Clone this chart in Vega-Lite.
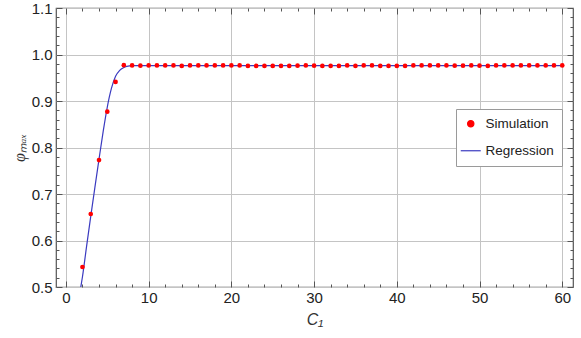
{
  "$schema": "https://vega.github.io/schema/vega-lite/v6.json",
  "width": 517,
  "height": 279,
  "autosize": "none",
  "padding": {"left": 56, "top": 8, "right": 8, "bottom": 51},
  "background": "white",
  "config": {
    "view": {"stroke": "#555", "strokeWidth": 1.2},
    "font": "Liberation Sans",
    "axis": {"labelFont": "Liberation Sans", "titleFont": "Liberation Sans", "labelColor": "#222", "titleColor": "#333", "tickColor": "#555", "gridColor": "#c4c4c4", "gridWidth": 1, "domain": false}
  },
  "datasets": {
    "sim": [
      {"C1": 2, "phi": 0.543}, {"C1": 3, "phi": 0.657}, {"C1": 4, "phi": 0.773}, {"C1": 5, "phi": 0.877},
      {"C1": 6, "phi": 0.941}, {"C1": 7, "phi": 0.977}, {"C1": 8, "phi": 0.9765}, {"C1": 9, "phi": 0.976},
      {"C1": 10, "phi": 0.9765}, {"C1": 11, "phi": 0.9765}, {"C1": 12, "phi": 0.9765}, {"C1": 13, "phi": 0.9765},
      {"C1": 14, "phi": 0.9755}, {"C1": 15, "phi": 0.9765}, {"C1": 16, "phi": 0.9765}, {"C1": 17, "phi": 0.9765},
      {"C1": 18, "phi": 0.9765}, {"C1": 19, "phi": 0.9765}, {"C1": 20, "phi": 0.9765}, {"C1": 21, "phi": 0.9765},
      {"C1": 22, "phi": 0.9755}, {"C1": 23, "phi": 0.9755}, {"C1": 24, "phi": 0.9755}, {"C1": 25, "phi": 0.9755},
      {"C1": 26, "phi": 0.9755}, {"C1": 27, "phi": 0.9755}, {"C1": 28, "phi": 0.976}, {"C1": 29, "phi": 0.9765},
      {"C1": 30, "phi": 0.976}, {"C1": 31, "phi": 0.9755}, {"C1": 32, "phi": 0.9755}, {"C1": 33, "phi": 0.9755},
      {"C1": 34, "phi": 0.9765}, {"C1": 35, "phi": 0.9755}, {"C1": 36, "phi": 0.9765}, {"C1": 37, "phi": 0.9765},
      {"C1": 38, "phi": 0.9755}, {"C1": 39, "phi": 0.9755}, {"C1": 40, "phi": 0.9755}, {"C1": 41, "phi": 0.9755},
      {"C1": 42, "phi": 0.9765}, {"C1": 43, "phi": 0.9765}, {"C1": 44, "phi": 0.9765}, {"C1": 45, "phi": 0.9765},
      {"C1": 46, "phi": 0.9765}, {"C1": 47, "phi": 0.976}, {"C1": 48, "phi": 0.976}, {"C1": 49, "phi": 0.9765},
      {"C1": 50, "phi": 0.976}, {"C1": 51, "phi": 0.9755}, {"C1": 52, "phi": 0.9765}, {"C1": 53, "phi": 0.9765},
      {"C1": 54, "phi": 0.9765}, {"C1": 55, "phi": 0.9765}, {"C1": 56, "phi": 0.9765}, {"C1": 57, "phi": 0.9765},
      {"C1": 58, "phi": 0.9765}, {"C1": 59, "phi": 0.9765}, {"C1": 60, "phi": 0.9765}
    ],
    "reg": [
      {"C1": 1.8, "phi": 0.5}, {"C1": 2.0, "phi": 0.522}, {"C1": 2.5, "phi": 0.588}, {"C1": 3.0, "phi": 0.652},
      {"C1": 3.5, "phi": 0.714}, {"C1": 4.0, "phi": 0.775}, {"C1": 4.5, "phi": 0.834}, {"C1": 5.0, "phi": 0.887},
      {"C1": 5.5, "phi": 0.927}, {"C1": 6.0, "phi": 0.953}, {"C1": 6.5, "phi": 0.966}, {"C1": 7.0, "phi": 0.972},
      {"C1": 7.5, "phi": 0.975}, {"C1": 8.0, "phi": 0.976}, {"C1": 9.0, "phi": 0.976}, {"C1": 60, "phi": 0.976}
    ]
  },
  "layer": [
    {
      "data": {"name": "reg"},
      "mark": {"type": "line", "strokeWidth": 1.2, "interpolate": "monotone"},
      "encoding": {
        "x": {
          "field": "C1", "type": "quantitative",
          "scale": {"domain": [-1.2, 61.3], "nice": false, "zero": false},
          "axis": {
            "orient": "bottom", "title": "C₁", "titleFontSize": 16, "titleFontStyle": "italic", "titleFontWeight": "normal", "titlePadding": 3,
            "values": [0, 2, 4, 6, 8, 10, 12, 14, 16, 18, 20, 22, 24, 26, 28, 30, 32, 34, 36, 38, 40, 42, 44, 46, 48, 50, 52, 54, 56, 58, 60],
            "format": "d",
            "labelExpr": "datum.value % 10 === 0 ? datum.label : ''",
            "labelFontSize": 15, "labelPadding": 9, "labelFlush": false, "labelOverlap": false,
            "tickSize": {"condition": {"test": "datum.value % 10 === 0", "value": -6}, "value": -3},
            "grid": true,
            "gridOpacity": {"condition": {"test": "datum.value % 10 === 0", "value": 1}, "value": 0}
          }
        },
        "y": {
          "field": "phi", "type": "quantitative",
          "scale": {"domain": [0.5, 1.1], "nice": false, "zero": false},
          "axis": {
            "orient": "left", "title": "φₘₐₓ", "titleFont": "Liberation Serif", "titleFontStyle": "italic", "titleFontSize": 16, "titleFontWeight": "normal", "titlePadding": 4,
            "values": [0.5, 0.52, 0.54, 0.56, 0.58, 0.6, 0.62, 0.64, 0.66, 0.68, 0.7, 0.72, 0.74, 0.76, 0.78, 0.8, 0.82, 0.84, 0.86, 0.88, 0.9, 0.92, 0.94, 0.96, 0.98, 1.0, 1.02, 1.04, 1.06, 1.08, 1.1],
            "format": ".1f",
            "labelExpr": "abs(datum.value * 10 - round(datum.value * 10)) < 0.0001 ? datum.label : ''",
            "labelFontSize": 15, "labelPadding": 10, "labelFlush": false, "labelOverlap": false,
            "tickSize": {"condition": {"test": "abs(datum.value * 10 - round(datum.value * 10)) < 0.0001", "value": -6}, "value": -3},
            "grid": true,
            "gridOpacity": {"condition": {"test": "abs(datum.value * 10 - round(datum.value * 10)) < 0.0001", "value": 1}, "value": 0}
          }
        },
        "color": {
          "datum": "Regression",
          "scale": {"domain": ["Simulation", "Regression"], "range": ["#ff0000", "#3a3ac0"]},
          "legend": {
            "orient": "none", "legendX": 400, "legendY": 101, "title": null,
            "strokeColor": "#9a9a9a", "fillColor": "white", "padding": 8,
            "labelFontSize": 13.5, "labelColor": "#222", "labelFont": "Liberation Sans", "labelOffset": 8, "rowPadding": 12,
            "encode": {
              "symbols": {
                "update": {
                  "shape": {"signal": "datum.label === 'Regression' ? 'stroke' : 'circle'"},
                  "size": {"signal": "datum.label === 'Regression' ? 400 : 40"},
                  "fill": {"signal": "datum.label === 'Regression' ? 'transparent' : '#ff0000'"},
                  "stroke": {"signal": "datum.label === 'Regression' ? '#3a3aff' : 'transparent'"},
                  "strokeWidth": {"value": 1.2},
                  "opacity": {"value": 1}
                }
              }
            }
          }
        }
      }
    },
    {
      "data": {"name": "sim"},
      "mark": {"type": "point", "filled": true, "size": 22, "opacity": 1},
      "encoding": {
        "x": {
          "field": "C1", "type": "quantitative",
          "axis": {
            "orient": "top", "title": null, "labels": false, "grid": false,
            "values": [0, 2, 4, 6, 8, 10, 12, 14, 16, 18, 20, 22, 24, 26, 28, 30, 32, 34, 36, 38, 40, 42, 44, 46, 48, 50, 52, 54, 56, 58, 60],
            "tickSize": {"condition": {"test": "datum.value % 10 === 0", "value": -6}, "value": -3}
          }
        },
        "y": {
          "field": "phi", "type": "quantitative",
          "axis": {
            "orient": "right", "title": null, "labels": false, "grid": false,
            "values": [0.5, 0.52, 0.54, 0.56, 0.58, 0.6, 0.62, 0.64, 0.66, 0.68, 0.7, 0.72, 0.74, 0.76, 0.78, 0.8, 0.82, 0.84, 0.86, 0.88, 0.9, 0.92, 0.94, 0.96, 0.98, 1.0, 1.02, 1.04, 1.06, 1.08, 1.1],
            "tickSize": {"condition": {"test": "abs(datum.value * 10 - round(datum.value * 10)) < 0.0001", "value": -6}, "value": -3}
          }
        },
        "color": {"datum": "Simulation"}
      }
    }
  ],
  "resolve": {"axis": {"x": "independent", "y": "independent"}}
}
